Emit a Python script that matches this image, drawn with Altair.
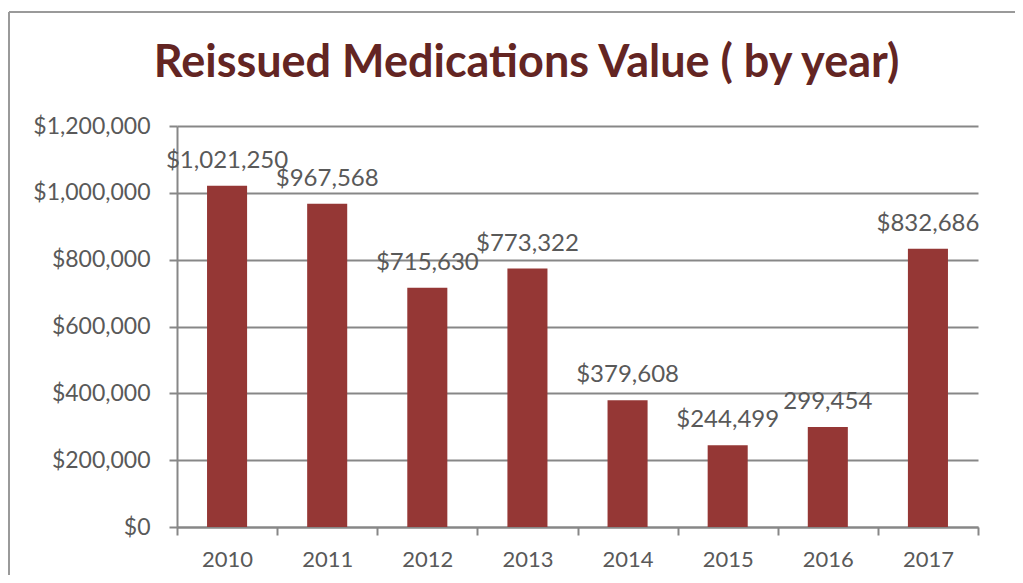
import altair as alt
import pandas as pd

years = ["2010", "2011", "2012", "2013", "2014", "2015", "2016", "2017"]
values = [1021250, 967568, 715630, 773322, 379608, 244499, 299454, 832686]
labels = ["$1,021,250", "$967,568", "$715,630", "$773,322",
          "$379,608", "$244,499", "299,454", "$832,686"]
y_ticks = [0, 200000, 400000, 600000, 800000, 1000000, 1200000]

df = pd.DataFrame({"year": years, "value": values, "label": labels})

FONT = "Lato"
GRAY = "#878787"
TXT = "#595959"

x_enc = alt.X(
    "year:N",
    title=None,
    sort=years,
    scale=alt.Scale(paddingInner=0, paddingOuter=0),
    axis=alt.Axis(
        labelAngle=0, labelFont=FONT, labelFontSize=22, labelColor=TXT,
        tickBand="extent", tickSize=8, tickColor=GRAY, tickWidth=2,
        domainColor=GRAY, domainWidth=2, labelPadding=14, grid=False,
    ),
)
y_enc = alt.Y(
    "value:Q",
    title=None,
    scale=alt.Scale(domain=[0, 1200000], nice=False),
    axis=alt.Axis(
        values=y_ticks, format="$,.0f", labelFont=FONT, labelFontSize=23,
        labelColor=TXT, tickSize=8, tickColor=GRAY, tickWidth=2,
        domainColor=GRAY, domainWidth=2, labelPadding=19,
        grid=True, gridColor=GRAY, gridWidth=2,
    ),
)

bars = alt.Chart(df).mark_bar(
    color="#953735", width=alt.RelativeBandSize(0.4)
).encode(x=x_enc, y=y_enc)

text = alt.Chart(df).mark_text(
    font=FONT, fontSize=24, color=TXT, baseline="alphabetic", dy=-18
).encode(x=alt.X("year:N", sort=years), y="value:Q", text="label:N")

frame_df = pd.DataFrame({"a": [0]})
top_border = alt.Chart(frame_df).mark_rule(color="#9a9a9a", strokeWidth=2).encode(
    x=alt.value(-168), x2=alt.value(838), y=alt.value(-114)
)
left_border = alt.Chart(frame_df).mark_rule(color="#9a9a9a", strokeWidth=2).encode(
    x=alt.value(-168), y=alt.value(-114), y2=alt.value(449)
)

chart = alt.layer(bars, text, top_border, left_border).properties(
    width=801,
    height=401,
    autosize=alt.AutoSizeParams(type="none"),
    padding={"left": 169, "top": 118, "right": 37, "bottom": 48},
    title=alt.TitleParams(
        "Reissued Medications Value ( by year)",
        font=FONT, fontSize=45, fontWeight="bold", color="#632523",
        anchor="middle", baseline="alphabetic", offset=-111, dx=-51,
    ),
).configure_view(stroke=None)

chart.save("out.html", embed_options={"renderer": "svg", "actions": False})
